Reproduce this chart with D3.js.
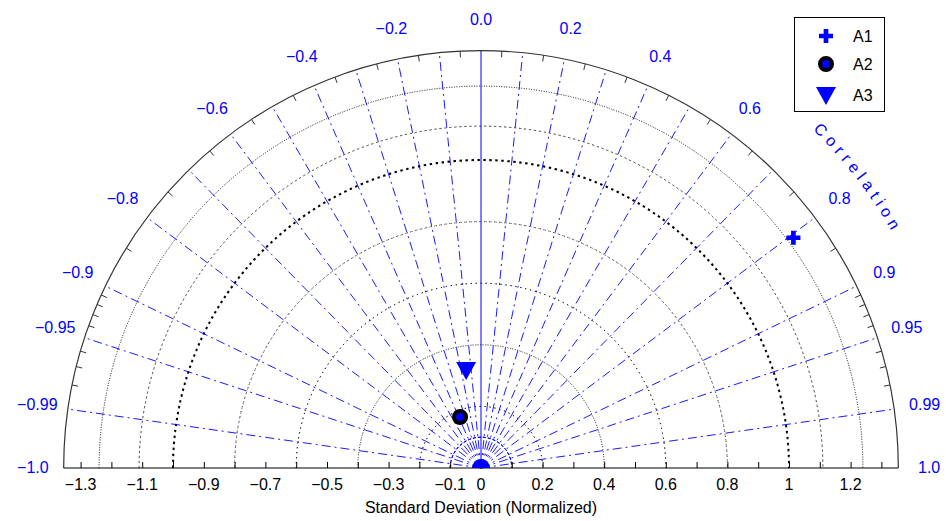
<!DOCTYPE html>
<html><head><meta charset="utf-8">
<script src="https://cdn.jsdelivr.net/npm/d3@7"></script>
<style>body{margin:0;background:#fff}text{font-family:"Liberation Sans",Arial,sans-serif}</style>
</head><body><div id="chart"></div>
<script>
// data
var corrLines = [0.1,0.2,0.3,0.4,0.5,0.6,0.7,0.8,0.9,0.95,0.99];
var corrLabels = ["0.2","0.4","0.6","0.8","0.9","0.95","0.99","1.0"];
var corrLabelsNeg = ["-0.2","-0.4","-0.6","-0.8","-0.9","-0.95","-0.99","-1.0"];
var corrTicks = [0.05,0.15,0.25,0.35,0.45,0.55,0.65,0.75,0.85,0.91,0.92,0.93,0.94,0.96,0.97,0.98];
var stdCircles = [0.2,0.4,0.6,0.8,1.11,1.24];
var refStd = 1.0;
var xTicksPos = [0.2,0.4,0.6,0.8,1,1.2];
var xTicksNeg = [-0.1,-0.3,-0.5,-0.7,-0.9,-1.1,-1.3];
var names = ["A1","A2","A3"];
var stdVals = [1.26,0.179,0.322];
var corrVals = [0.805,-0.38,-0.15];
var maxStd = 1.355;

var W = 946, H = 521, cx = 481, cy = 468;
var svg = d3.select("#chart").append("svg").attr("width", W).attr("height", H);
var r = d3.scaleLinear().domain([0, 1]).range([0, 308]);
var x = d3.scaleLinear().domain([-1, 1]).range([cx - 308, cx + 308]);
var blue = "#0000ff";

function pt(s, c){ var a = Math.acos(c); return [cx + r(s)*Math.cos(a), cy - r(s)*Math.sin(a)]; }

var g = svg.append("g");
// std circles
stdCircles.forEach(function(s){
	g.append("path").attr("d", d3.arc()({innerRadius:r(s),outerRadius:r(s),startAngle:-Math.PI/2,endAngle:Math.PI/2}))
	 .attr("transform","translate("+cx+","+cy+")").attr("fill","none").attr("stroke","#000")
	 .attr("stroke-width",0.9).attr("stroke-dasharray","1,4");
});
g.append("path").attr("d", d3.arc()({innerRadius:r(refStd),outerRadius:r(refStd),startAngle:-Math.PI/2,endAngle:Math.PI/2}))
 .attr("transform","translate("+cx+","+cy+")").attr("fill","none").attr("stroke","#000")
 .attr("stroke-width",2).attr("stroke-dasharray","2,4");
// small blue semicircle
g.append("path").attr("d", d3.arc()({innerRadius:r(0.1),outerRadius:r(0.1),startAngle:-Math.PI/2,endAngle:Math.PI/2}))
 .attr("transform","translate("+cx+","+cy+")").attr("fill","none").attr("stroke",blue)
 .attr("stroke-width",1).attr("stroke-dasharray","3,2");

// radial correlation lines
corrLines.concat(corrLines.map(function(c){return -c;})).forEach(function(c){
	var p = pt(maxStd, c);
	g.append("line").attr("x1",cx).attr("y1",cy).attr("x2",p[0]).attr("y2",p[1])
	 .attr("stroke",blue).attr("stroke-width",0.9).attr("stroke-dasharray","9,4,2,4");
});
g.append("line").attr("x1",cx).attr("y1",cy).attr("x2",cx).attr("y2",cy - r(maxStd))
 .attr("stroke",blue).attr("stroke-width",1);

// outer arc
g.append("path").attr("d", d3.arc()({innerRadius:r(maxStd),outerRadius:r(maxStd),startAngle:-Math.PI/2,endAngle:Math.PI/2}))
 .attr("transform","translate("+cx+","+cy+")").attr("fill","none").attr("stroke","#333").attr("stroke-width",1.2);
corrTicks.concat(corrTicks.map(function(c){return -c;})).forEach(function(c){
	var p1 = pt(maxStd, c), p2 = pt(maxStd - 0.02, c);
	g.append("line").attr("x1",p1[0]).attr("y1",p1[1]).attr("x2",p2[0]).attr("y2",p2[1]).attr("stroke","#333");
});

// correlation labels
var lab = svg.append("g").attr("fill",blue).style("font-size","16px").attr("text-anchor","middle");
function corrLabel(t){
	var c = +t, p = pt(1.455, c);
	lab.append("text").attr("x",p[0]).attr("y",p[1]+5).text(t.replace("-","\u2212"));
}
corrLabel("0.0");
corrLabels.forEach(corrLabel);
corrLabelsNeg.forEach(corrLabel);

// "Correlation" along arc
var a0 = Math.acos(0.70), a1 = Math.acos(0.93);
var R = 474;
svg.append("path").attr("id","cpath").attr("fill","none")
 .attr("d","M"+(cx+R*Math.cos(a0))+","+(cy-R*Math.sin(a0))+" A"+R+","+R+" 0 0 1 "+(cx+R*Math.cos(a1))+","+(cy-R*Math.sin(a1)));
svg.append("text").attr("fill",blue).style("font-size","16px").style("letter-spacing","5px")
 .append("textPath").attr("href","#cpath").text("Correlation");

// x axis
var axis = d3.axisBottom(x).tickValues(d3.range(-13,14).map(function(d){return d/10;})).tickSize(-6).tickFormat("");
svg.append("g").attr("transform","translate(0,"+cy+")").call(axis)
 .call(function(s){s.select(".domain").attr("d","M"+(cx-r(maxStd))+",0H"+(cx+r(maxStd))).attr("stroke","#000");
   s.selectAll(".tick line").attr("stroke","#000");});
var xl = svg.append("g").style("font-size","16px").attr("text-anchor","middle").attr("fill","#000");
[0].concat(xTicksPos, xTicksNeg).forEach(function(v){
	xl.append("text").attr("x",x(v)).attr("y",cy+22).text(String(v).replace("-","\u2212"));
});
svg.append("text").attr("x",cx).attr("y",513).attr("text-anchor","middle").style("font-size","16px").text("Standard Deviation (Normalized)");

// reference point at origin
svg.append("clipPath").attr("id","clipTop").append("rect").attr("x",0).attr("y",0).attr("width",W).attr("height",cy);
svg.append("circle").attr("cx",cx).attr("cy",cy).attr("r",9).attr("fill",blue).attr("clip-path","url(#clipTop)");

// markers
function marker(sel, i, px, py){
	if(i===0) sel.append("path").attr("d",d3.symbol(d3.symbolCross,110)()).attr("transform","translate("+px+","+py+")").attr("fill",blue);
	else if(i===1) sel.append("circle").attr("cx",px).attr("cy",py).attr("r",6).attr("fill",blue).attr("stroke","#000").attr("stroke-width",4);
	else sel.append("path").attr("d","M-10,-8L10,-8L0,10Z").attr("transform","translate("+px+","+py+")").attr("fill",blue);
}
names.forEach(function(n,i){ var p = pt(stdVals[i], corrVals[i]); marker(svg, i, p[0], p[1]); });

// legend
var lg = svg.append("g");
lg.append("rect").attr("x",794.5).attr("y",17.5).attr("width",90).attr("height",94).attr("fill","#fff").attr("stroke","#000");
var ly = [36,64,95];
names.forEach(function(n,i){
	marker(lg, i, 826, ly[i]);
	lg.append("text").attr("x",853).attr("y",ly[i]+6).style("font-size","16px").text(n);
});
</script></body></html>
